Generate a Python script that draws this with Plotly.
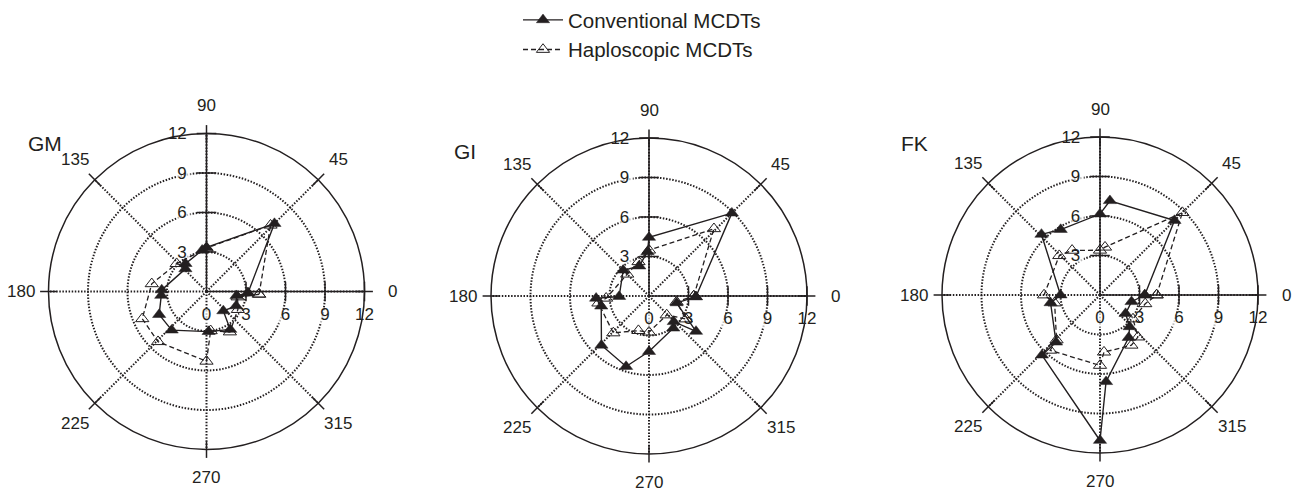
import math
import plotly.graph_objects as go

# ---- data: deviation per meridian, one closed contour per test ----
ANGLE_TICKS = [0, 45, 90, 135, 180, 225, 270, 315]
RADIAL_TICKS = [0, 3, 6, 9, 12]
VERTICAL_TICKS = [3, 6, 9, 12]
R_MAX = 12

subjects = ["GM", "GI", "FK"]

gm_conv_theta = [358, 45, 90, 96, 127, 133, 178, 185, 206, 228, 273, 302, 311, 334, 352]
gm_conv_r = [3.15, 7.3, 3.35, 3.15, 2.65, 2.35, 3.4, 3.45, 4.0, 3.95, 3.05, 3.4, 1.95, 2.5, 2.3]
gm_hap_theta = [357, 46, 90, 137, 172, 203, 226, 270, 276, 300, 330, 350]
gm_hap_r = [4.0, 7.0, 3.3, 3.1, 4.2, 5.3, 5.3, 5.3, 3.0, 3.55, 2.75, 2.4]

gi_conv_theta = [359, 45, 90, 92, 108, 135, 181, 182.5, 192, 226, 252, 270, 307, 314, 323, 346]
gi_conv_r = [3.56, 8.9, 4.45, 3.36, 2.39, 2.77, 2.27, 4.02, 3.71, 5.2, 5.63, 4.22, 3.06, 2.71, 4.47, 2.16]
gi_hap_theta = [0, 46, 90, 107, 135, 183, 188, 226, 253, 270, 313, 328, 348]
gi_hap_r = [3.4, 7.1, 3.48, 2.72, 2.34, 3.26, 3.88, 3.9, 2.75, 2.75, 1.97, 3.3, 2.14]

fk_conv_theta = [0, 45, 84, 90, 121, 134, 180, 189, 227, 226, 270, 274, 304, 313, 324, 348]
fk_conv_r = [3.4, 8.0, 7.2, 6.15, 5.8, 6.4, 3.0, 3.8, 4.9, 6.35, 11.05, 6.6, 3.9, 3.3, 2.4, 2.45]
fk_hap_theta = [0, 45, 84, 90, 122, 136, 180, 190, 226, 228, 270, 274, 302, 312, 324, 349]
fk_hap_r = [4.3, 8.85, 3.65, 3.4, 4.0, 4.3, 4.25, 3.5, 4.75, 5.65, 5.35, 4.35, 4.5, 4.3, 3.1, 3.5]

series = {
    "GM": (gm_conv_theta, gm_conv_r, gm_hap_theta, gm_hap_r),
    "GI": (gi_conv_theta, gi_conv_r, gi_hap_theta, gi_hap_r),
    "FK": (fk_conv_theta, fk_conv_r, fk_hap_theta, fk_hap_r),
}

# ---- layout geometry (pixels) ----
W, H = 1300, 492
RADIUS_PX = 158
centers = {"GM": (206.5, 291.5), "GI": (649, 296), "FK": (1100, 295)}
name_pos = {"GM": (26, 143.5), "GI": (452, 151.5), "FK": (899, 143.5)}

INK = "#231f20"
FONT = "Liberation Sans, Arial, sans-serif"
PX_PER_UNIT = RADIUS_PX / R_MAX
DOTS = "1.5px,1.6px"
LABEL_DROP = 25       # px between the 0° axis and its tick-label centres
LABEL_SIDE = 23       # px between the 90° axis and its tick-label centres
ANGLE_LABEL_GAP = 28  # px between the rim and the meridian label centres


def closed(seq):
    return list(seq) + [seq[0]]


fig = go.Figure()
layout_polars = {}
annotations = []

for i, key in enumerate(subjects):
    main = "polar" if i == 0 else f"polar{i + 1}"
    over = f"polar{i + 4}"
    cx, cy = centers[key]
    dom_x = [(cx - RADIUS_PX) / W, (cx + RADIUS_PX) / W]
    dom_y = [(H - cy - RADIUS_PX) / H, (H - cy + RADIUS_PX) / H]

    # white boxes behind the radial tick labels (they interrupt the grid)
    bg_r, bg_t, bg_s = [], [], []
    for t in RADIAL_TICKS:
        px = t * PX_PER_UNIT
        bg_r.append(math.hypot(px, LABEL_DROP) / PX_PER_UNIT)
        bg_t.append(-math.degrees(math.atan2(LABEL_DROP, px)))
        bg_s.append(21 if t >= 10 else 14)
    for t in VERTICAL_TICKS:
        px = t * PX_PER_UNIT
        bg_r.append(math.hypot(px, LABEL_SIDE) / PX_PER_UNIT)
        bg_t.append(90 + math.degrees(math.atan2(LABEL_SIDE, px)))
        bg_s.append(21 if t >= 10 else 14)
    fig.add_trace(go.Scatterpolar(
        r=bg_r, theta=bg_t, mode="markers", subplot=main,
        marker=dict(symbol="square", size=bg_s, color="white", line=dict(width=0)),
        showlegend=False, hoverinfo="skip"))

    ct, cr, ht, hr = series[key]
    fig.add_trace(go.Scatterpolar(
        r=closed(cr), theta=closed(ct), mode="lines+markers", subplot=main,
        name="Conventional MCDTs", showlegend=(i == 0),
        line=dict(color=INK, width=1.4),
        marker=dict(symbol="triangle-up", size=11.5, color=INK, line=dict(color=INK, width=0.5))))
    fig.add_trace(go.Scatterpolar(
        r=closed(hr), theta=closed(ht), mode="lines+markers", subplot=main,
        name="Haploscopic MCDTs", showlegend=(i == 0),
        line=dict(color=INK, width=1.3, dash="5px,3px"),
        marker=dict(symbol="triangle-up-open", size=11.5, color=INK, line=dict(color=INK, width=1))))

    # tick marks crossing the 0° radial axis
    fig.add_trace(go.Scatterpolar(
        r=VERTICAL_TICKS, theta=[0] * len(VERTICAL_TICKS), mode="markers", subplot=main,
        marker=dict(symbol="line-ns", size=14, line=dict(color=INK, width=1.5)),
        showlegend=False, hoverinfo="skip"))
    # tick marks crossing the outer circle at each labelled meridian
    fig.add_trace(go.Scatterpolar(
        r=[R_MAX] * len(ANGLE_TICKS), theta=ANGLE_TICKS, mode="markers", subplot=main,
        marker=dict(symbol="line-ns", size=12, angle=[90 - a for a in ANGLE_TICKS],
                    line=dict(color=INK, width=1.5)),
        showlegend=False, hoverinfo="skip", cliponaxis=False))
    # tick marks crossing the 90° radial axis (drawn on the overlay axis)
    fig.add_trace(go.Scatterpolar(
        r=VERTICAL_TICKS, theta=[90] * len(VERTICAL_TICKS), mode="markers", subplot=over,
        marker=dict(symbol="line-ew", size=14, line=dict(color=INK, width=1.5)),
        showlegend=False, hoverinfo="skip", cliponaxis=False))

    # meridian labels centred on their spokes just outside the rim
    lab_px = RADIUS_PX + ANGLE_LABEL_GAP
    for a in ANGLE_TICKS:
        ax_ = cx + lab_px * math.cos(math.radians(a))
        ay_ = cy - lab_px * math.sin(math.radians(a))
        annotations.append(dict(
            text=str(a), x=ax_ / W, y=(H - ay_) / H, xref="paper", yref="paper",
            xanchor="center", yanchor="middle", showarrow=False,
            font=dict(family=FONT, size=17, color=INK)))

    layout_polars[main] = dict(
        domain=dict(x=dom_x, y=dom_y),
        bgcolor="white",
        angularaxis=dict(
            rotation=0, direction="counterclockwise",
            tickmode="array", tickvals=ANGLE_TICKS, showticklabels=False,
            showline=True, linecolor=INK, linewidth=1.5,
            showgrid=True, gridcolor=INK, gridwidth=1.5, griddash=DOTS,
            ticks=""),
        radialaxis=dict(
            range=[0, R_MAX], angle=0, side="clockwise",
            tickmode="array", tickvals=RADIAL_TICKS, ticktext=[str(t) for t in RADIAL_TICKS],
            showline=True, linecolor=INK, linewidth=1.5,
            showgrid=True, gridcolor=INK, gridwidth=1.5, griddash=DOTS,
            ticks="outside", ticklen=7, tickcolor="rgba(0,0,0,0)", tickangle=0,
            tickfont=dict(family=FONT, size=17, color=INK)),
    )
    layout_polars[over] = dict(
        domain=dict(x=dom_x, y=dom_y),
        bgcolor="rgba(0,0,0,0)",
        angularaxis=dict(visible=False, rotation=0, direction="counterclockwise"),
        radialaxis=dict(
            range=[0, R_MAX], angle=90, side="counterclockwise",
            tickmode="array", tickvals=VERTICAL_TICKS, ticktext=[str(t) for t in VERTICAL_TICKS],
            showline=True, linecolor=INK, linewidth=1.5, showgrid=False,
            ticks="outside", ticklen=13, tickcolor="rgba(0,0,0,0)", tickangle=90,
            tickfont=dict(family=FONT, size=17, color=INK)),
    )

for key in subjects:
    x, y = name_pos[key]
    annotations.append(dict(
        text=key, x=x / W, y=(H - y) / H, xref="paper", yref="paper",
        xanchor="left", yanchor="middle", showarrow=False,
        font=dict(family=FONT, size=21, color=INK)))

fig.update_layout(
    width=W, height=H,
    margin=dict(l=0, r=0, t=0, b=0),
    paper_bgcolor="white",
    font=dict(family=FONT, color=INK),
    annotations=annotations,
    legend=dict(
        x=518 / W, xanchor="left", y=1.0, yanchor="top",
        font=dict(family=FONT, size=20.5, color=INK),
        bgcolor="rgba(0,0,0,0)", tracegroupgap=0, itemwidth=40,
    ),
    **layout_polars,
)

fig.write_html("out.html")
